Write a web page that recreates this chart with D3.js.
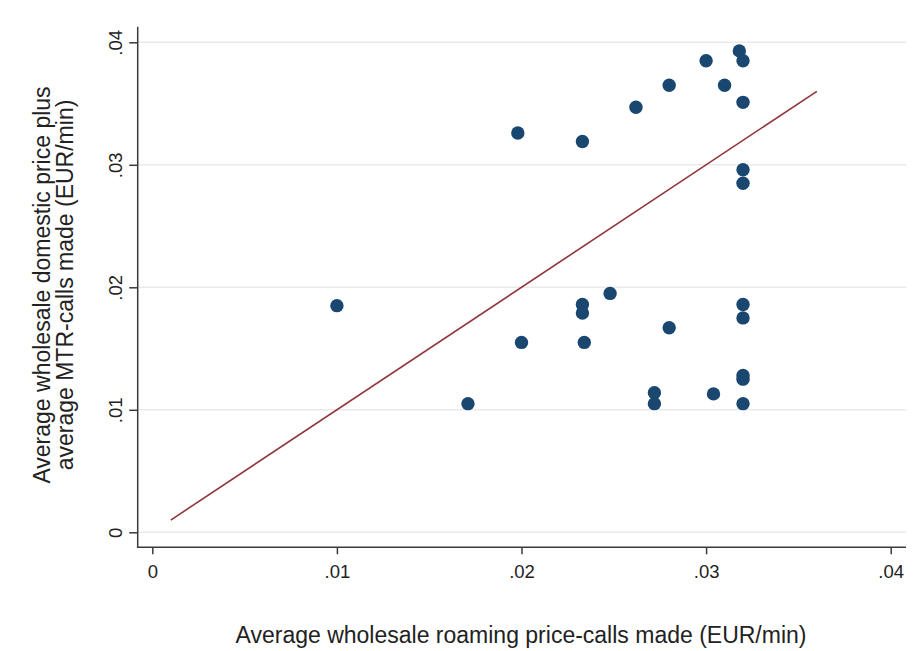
<!DOCTYPE html>
<html>
<head>
<meta charset="utf-8">
<script src="https://cdn.jsdelivr.net/npm/d3@7"></script>
<style>
  html, body { margin: 0; padding: 0; background: #fff; }
  svg { display: block; font-family: "Liberation Sans", Arial, sans-serif; }
</style>
</head>
<body>
<div id="chart"></div>
<script>
// Wholesale roaming vs domestic price scatter, with 45-degree line

const roamingPrice = [
  0.0100, 0.0171, 0.0198, 0.0200, 0.0233, 0.0233, 0.0233, 0.0234, 0.0248,
  0.0262, 0.0280, 0.0280, 0.0272, 0.0272, 0.0300, 0.0310, 0.0304, 0.0318,
  0.0320, 0.0320, 0.0320, 0.0320, 0.0320, 0.0320, 0.0320, 0.0320, 0.0320
];
const domesticPrice = [
  0.0185, 0.0105, 0.0326, 0.0155, 0.0319, 0.0186, 0.0179, 0.0155, 0.0195,
  0.0347, 0.0365, 0.0167, 0.0114, 0.0105, 0.0385, 0.0365, 0.0113, 0.0393,
  0.0385, 0.0351, 0.0296, 0.0285, 0.0186, 0.0175, 0.0128, 0.0125, 0.0105
];
const fitLine = [0.001, 0.036];
const xTicks = [0, 0.01, 0.02, 0.03, 0.04];
const yTicks = [0, 0.01, 0.02, 0.03, 0.04];
const xTitle = 'Average wholesale roaming price-calls made (EUR/min)';
const yTitle = ['Average wholesale domestic price plus', 'average MTR-calls made (EUR/min)'];

const width = 923, height = 651;
const plot = { left: 137.7, right: 906, top: 26.7, bottom: 547.3 };

const fmt = v => v === 0 ? '0' : d3.format('.2f')(v).replace(/^0/, '');

const x = d3.scaleLinear().domain([0, 0.04]).range([152.3, 890.7]);
const y = d3.scaleLinear().domain([0, 0.04]).range([532.3, 42.3]);

const svg = d3.select('#chart').append('svg')
    .attr('width', width)
    .attr('height', height);

// grid
svg.append('g')
    .selectAll('line')
    .data(yTicks)
    .join('line')
    .attr('x1', plot.left).attr('x2', plot.right)
    .attr('y1', d => y(d)).attr('y2', d => y(d))
    .attr('stroke', '#eaeaea')
    .attr('stroke-width', 1.5);

// axes
const axisColor = '#3a3a3a';
const yAxis = svg.append('g')
    .attr('transform', `translate(${plot.left},0)`)
    .call(d3.axisLeft(y).tickValues(yTicks).tickSize(8.5).tickPadding(7).tickFormat(fmt));
const xAxis = svg.append('g')
    .attr('transform', `translate(0,${plot.bottom})`)
    .call(d3.axisBottom(x).tickValues(xTicks).tickSize(7).tickPadding(11).tickFormat(fmt));

[xAxis, yAxis].forEach(g => {
    g.select('.domain').remove();
    g.selectAll('.tick line').attr('stroke', axisColor).attr('stroke-width', 1.5);
    g.selectAll('.tick text')
        .attr('fill', '#222')
        .attr('font-size', '18.5px')
        .attr('font-family', '"Liberation Sans", Arial, sans-serif');
});
// rotate the y tick labels like the original
yAxis.selectAll('.tick text')
    .attr('x', null).attr('dy', null)
    .attr('text-anchor', 'middle')
    .attr('transform', 'translate(-16,0) rotate(-90)');

svg.append('line')
    .attr('x1', plot.left).attr('x2', plot.left)
    .attr('y1', plot.top).attr('y2', plot.bottom + 0.75)
    .attr('stroke', axisColor).attr('stroke-width', 1.5);
svg.append('line')
    .attr('x1', plot.left - 0.75).attr('x2', plot.right)
    .attr('y1', plot.bottom).attr('y2', plot.bottom)
    .attr('stroke', axisColor).attr('stroke-width', 1.5);

// 45-degree line
svg.append('line')
    .attr('x1', x(fitLine[0])).attr('y1', y(fitLine[0]))
    .attr('x2', x(fitLine[1])).attr('y2', y(fitLine[1]))
    .attr('stroke', '#90353b')
    .attr('stroke-width', 1.6);

// points
svg.append('g')
    .selectAll('circle')
    .data(roamingPrice.map((r, i) => [r, domesticPrice[i]]))
    .join('circle')
    .attr('cx', d => x(d[0]))
    .attr('cy', d => y(d[1]))
    .attr('r', 6.7)
    .attr('fill', '#1a476f');

// titles
svg.append('text')
    .attr('x', 521)
    .attr('y', 643)
    .attr('text-anchor', 'middle')
    .attr('font-size', '23px')
    .attr('fill', '#222')
    .text(xTitle);

const yt = svg.append('text')
    .attr('transform', 'translate(50,285) rotate(-90)')
    .attr('text-anchor', 'middle')
    .attr('font-size', '23px')
    .attr('fill', '#222');
yTitle.forEach((line, i) => {
    yt.append('tspan')
        .attr('x', 0)
        .attr('y', i * 22.5)
        .text(line);
});
</script>
</body>
</html>
